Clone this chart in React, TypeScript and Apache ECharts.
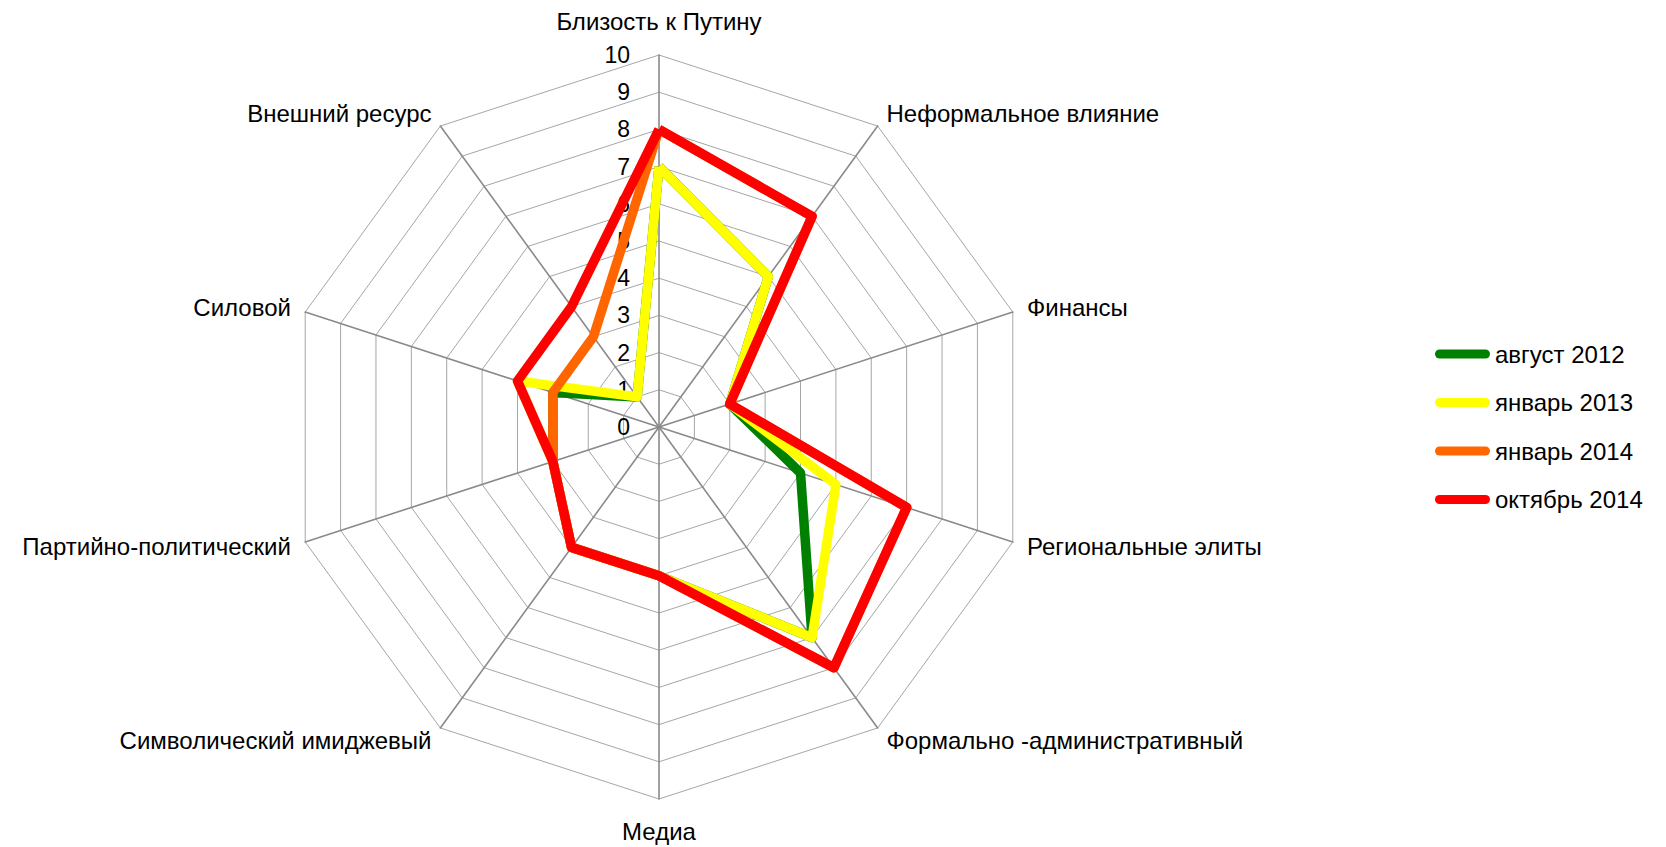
import React, { useEffect, useRef } from 'react';
import * as echarts from 'echarts';

// Indicators listed clockwise from the top, as in the reference
const indicatorNames = [
  'Близость к Путину',
  'Неформальное влияние',
  'Финансы',
  'Региональные элиты',
  'Формально -административный',
  'Медиа',
  'Символический имиджевый',
  'Партийно-политический',
  'Силовой',
  'Внешний ресурс',
];
const seriesNames = ['август 2012', 'январь 2013', 'январь 2014', 'октябрь 2014'];
const aug2012 = [7, 5, 2, 4, 7, 4, 4, 3, 3, 1];
const jan2013 = [7, 5, 2, 5, 7, 4, 4, 3, 4, 1];
const jan2014 = [8, 7, 2, 7, 8, 4, 4, 3, 3, 3];
const oct2014 = [8, 7, 2, 7, 8, 4, 4, 3, 4, 4];
const seriesValues = [aug2012, jan2013, jan2014, oct2014];
const seriesColors = ['#008000', '#FFFF00', '#FF6600', '#FF0000'];
const axisMin = 0;
const axisMax = 10;

// ECharts places radar indicators counter-clockwise; reorder to keep the reference's clockwise layout
const toCCW = <T,>(arr: T[]): T[] => [arr[0], ...arr.slice(1).reverse()];

const FONT = 'Liberation Sans';

export default function App() {
  const ref = useRef<HTMLDivElement>(null);
  useEffect(() => {
    if (!ref.current) return;
    const chart = echarts.init(ref.current, undefined, { renderer: 'svg' });
    const topName = indicatorNames[0];
    const bottomName = indicatorNames[5];
    const indicator = toCCW(indicatorNames).map((name, i) => {
      const ind: any = { name, min: axisMin, max: axisMax };
      if (i === 0) {
        ind.axisLabel = { show: true, fontSize: 23, color: '#000', fontFamily: FONT, margin: 29 };
      }
      return ind;
    });
    chart.setOption({
      animation: false,
      backgroundColor: '#ffffff',
      textStyle: { fontFamily: FONT },
      legend: {
        orient: 'vertical',
        left: 1430,
        top: 337,
        itemWidth: 55,
        itemHeight: 9,
        itemGap: 24.5,
        icon: 'path://M4.5,0 L50.5,0 A4.5,4.5 0 0 1 50.5,9 L4.5,9 A4.5,4.5 0 0 1 4.5,0 Z',
        selectedMode: false,
        itemStyle: { borderWidth: 0 },
        textStyle: { fontSize: 24, color: '#000', fontFamily: FONT },
        data: seriesNames,
      },
      radar: {
        center: [659, 427],
        radius: 372,
        startAngle: 90,
        splitNumber: 10,
        shape: 'polygon',
        nameGap: 15,
        axisName: {
          color: '#000',
          fontSize: 24,
          fontFamily: FONT,
          formatter: (name: string) =>
            name === topName ? `{t|${name}}` : name === bottomName ? `{b|${name}}` : name,
          rich: {
            t: { fontSize: 24, fontFamily: FONT, color: '#000', padding: [0, 0, 7, 0] },
            b: { fontSize: 24, fontFamily: FONT, color: '#000', padding: [5, 0, 0, 0] },
          },
        },
        indicator,
        axisLine: { show: true, lineStyle: { color: '#8a8a8a', width: 1.6 } },
        splitLine: { show: true, lineStyle: { color: '#a6a6a6', width: 1 } },
        splitArea: { show: false },
        axisTick: { show: false },
        axisLabel: { show: false },
      },
      series: [
        {
          type: 'radar',
          symbol: 'none',
          data: seriesNames.map((name, i) => ({
            name,
            value: toCCW(seriesValues[i]),
            itemStyle: { color: seriesColors[i] },
            lineStyle: { color: seriesColors[i], width: 9.5 },
          })),
        },
      ],
    });
    return () => chart.dispose();
  }, []);
  return (
    <div
      ref={ref}
      style={{ position: 'absolute', left: 0, top: 0, width: 1666, height: 847 }}
    />
  );
}
